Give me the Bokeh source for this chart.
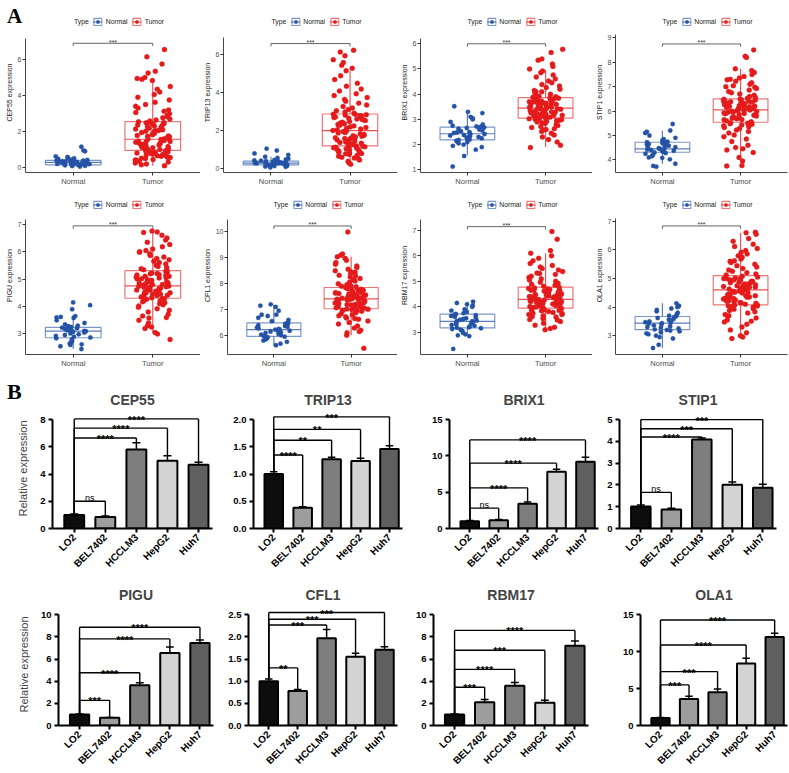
from bokeh.plotting import figure
from bokeh.models import Range1d, FixedTicker, Legend, LegendItem, ColumnDataSource, Div
from bokeh.transform import jitter
from bokeh.layouts import column, row
from bokeh.embed import file_html
from bokeh.resources import INLINE
from bokeh.core.properties import value
import math

# ---------------- DATA: panel A (expression, TCGA-like) ----------------
groups_a = ["Normal", "Tumor"]

normal_cep55 = [0.05,0.08,0.1,0.12,0.14,0.15,0.16,0.18,0.19,0.2,0.21,0.22,0.23,0.24,0.25,0.26,0.27,0.28,0.28,0.29,
                0.3,0.31,0.32,0.33,0.34,0.35,0.36,0.38,0.39,0.4,0.42,0.44,0.47,0.5,0.53,0.58,0.62,0.9,0.95,1.15]
tumor_cep55 = [0.1,0.15,0.2,0.25,0.3,0.35,0.4,0.42,0.45,0.5,0.52,0.55,0.6,0.62,0.65,0.68,0.7,0.72,0.75,0.78,0.8,0.84,0.87,0.9,0.93,
               0.96,1.0,1.02,1.05,1.08,1.1,1.13,1.16,1.2,1.22,1.25,1.28,1.3,1.33,1.36,1.4,1.43,1.46,1.5,1.53,1.56,1.58,1.6,1.63,1.66,
               1.7,1.74,1.78,1.82,1.86,1.9,1.94,1.98,2.02,2.06,2.1,2.14,2.18,2.22,2.26,2.3,2.33,2.36,2.39,2.42,2.45,2.48,2.5,2.52,2.54,
               2.58,2.64,2.7,2.76,2.82,2.9,2.98,3.05,3.12,3.2,3.3,3.4,3.5,3.62,3.75,3.9,4.05,4.2,4.35,4.5,4.83,4.95,5.25,5.75,6.55,
               5.35,6.15,4.9,5.0,1.15,1.45,1.75,2.05,0.55,0.85]
normal_trip13 = [0.06,0.09,0.11,0.13,0.15,0.17,0.18,0.19,0.2,0.21,0.22,0.23,0.24,0.25,0.26,0.27,0.28,0.28,0.29,0.3,
                 0.31,0.32,0.33,0.34,0.35,0.36,0.37,0.38,0.39,0.41,0.43,0.45,0.48,0.52,0.56,0.62,0.72,0.8,0.95,1.05]
tumor_trip13 = [0.22,0.3,0.38,0.45,0.5,0.55,0.6,0.65,0.7,0.74,0.78,0.82,0.86,0.9,0.93,0.96,0.99,1.02,1.05,1.08,1.1,1.13,1.15,1.17,1.19,
                1.22,1.26,1.3,1.34,1.38,1.42,1.46,1.5,1.54,1.58,1.62,1.66,1.7,1.73,1.76,1.8,1.84,1.88,1.92,1.96,1.99,2.01,2.05,2.09,2.13,
                2.17,2.21,2.25,2.29,2.33,2.37,2.41,2.45,2.49,2.53,2.57,2.61,2.65,2.69,2.72,2.75,2.78,2.8,2.82,2.84,2.86,2.87,1.6,1.9,2.3,
                2.92,2.98,3.05,3.12,3.2,3.28,3.36,3.45,3.55,3.65,3.75,3.85,3.95,4.1,4.2,4.35,4.5,4.7,4.9,5.17,5.45,5.6,5.75,5.95,6.25,
                6.15,5.3,1.4,2.6,0.8,1.1]
normal_brix1 = [1.13,1.55,1.8,1.9,1.95,2.0,2.05,2.1,2.12,2.15,2.18,2.2,2.22,2.25,2.28,2.3,2.33,2.36,2.38,2.4,2.42,
                2.44,2.46,2.48,2.5,2.53,2.56,2.6,2.63,2.66,2.68,2.7,2.72,2.75,2.8,2.9,3.0,3.05,3.1,3.25,3.3,3.52]
tumor_brix1 = [1.88,1.97,2.1,2.2,2.3,2.38,2.45,2.52,2.58,2.63,2.68,2.72,2.76,2.8,2.84,2.87,2.9,2.93,2.95,2.97,2.99,3.01,3.02,3.03,3.04,
               3.06,3.08,3.1,3.12,3.14,3.16,3.18,3.2,3.22,3.24,3.26,3.28,3.3,3.32,3.34,3.36,3.38,3.4,3.42,3.44,3.45,3.46,3.48,3.5,3.52,
               3.54,3.56,3.58,3.6,3.62,3.64,3.66,3.68,3.7,3.72,3.74,3.76,3.78,3.8,3.82,3.84,3.85,3.3,3.4,3.5,3.6,3.2,3.7,3.15,3.55,
               3.88,3.92,3.96,4.0,4.05,4.1,4.15,4.2,4.26,4.32,4.38,4.45,4.52,4.6,4.68,4.76,4.85,4.92,5.0,5.1,5.2,5.35,5.4,5.65,5.78,
               3.35,3.45,3.65,2.6,4.1,3.9]
normal_stip1 = [3.72,3.75,3.84,4.02,4.08,4.1,4.15,4.2,4.25,4.28,4.3,4.32,4.35,4.37,4.4,4.42,4.44,4.45,4.46,4.48,
                4.5,4.52,4.55,4.58,4.6,4.62,4.65,4.68,4.7,4.72,4.74,4.76,4.8,4.85,4.9,5.0,5.1,5.15,5.2,5.47]
tumor_stip1 = [3.75,3.77,3.95,4.1,4.3,4.45,4.6,4.75,4.85,4.95,5.02,5.1,5.16,5.22,5.28,5.32,5.36,5.4,5.43,5.46,5.48,5.5,5.52,5.53,4.5,
               5.56,5.6,5.64,5.68,5.72,5.76,5.8,5.83,5.86,5.89,5.92,5.95,5.98,6.0,6.02,6.04,6.05,6.06,6.08,6.1,6.12,6.14,6.16,6.18,6.2,
               6.22,6.24,6.26,6.28,6.3,6.32,6.34,6.36,6.38,6.4,6.42,6.44,6.46,6.48,6.49,5.7,5.9,6.1,6.3,5.65,6.15,6.35,5.85,6.25,6.45,
               6.52,6.56,6.6,6.65,6.7,6.75,6.8,6.86,6.92,6.98,7.04,7.1,7.16,7.22,7.28,7.35,7.42,7.5,7.58,7.66,7.73,8.2,8.25,8.5,7.0,
               6.0,5.95,6.2,5.75,4.4,7.3]
normal_pigu = [2.45,2.55,2.6,2.62,2.65,2.7,2.75,2.8,2.84,2.87,2.9,2.93,2.96,2.99,3.02,3.05,3.08,3.1,3.11,3.13,
               3.15,3.17,3.19,3.21,3.23,3.25,3.28,3.3,3.35,3.4,3.5,3.58,3.6,3.62,3.65,3.9,4.05,4.15]
tumor_pigu = [2.8,3.05,3.2,3.3,3.4,3.5,3.58,3.65,3.72,3.8,3.86,3.92,3.97,4.02,4.06,4.1,4.14,4.17,4.2,4.22,4.24,4.26,4.28,4.29,3.0,
              4.32,4.35,4.38,4.41,4.44,4.47,4.5,4.53,4.56,4.59,4.62,4.65,4.68,4.7,4.72,4.74,4.75,4.76,4.78,4.8,4.83,4.86,4.89,4.92,4.95,
              4.98,5.01,5.04,5.07,5.1,5.13,5.16,5.19,5.22,5.25,5.28,5.3,4.4,4.6,4.8,5.0,5.2,4.5,4.7,4.9,5.1,4.45,4.85,5.05,4.65,
              5.34,5.38,5.42,5.46,5.5,5.55,5.6,5.65,5.7,5.75,5.8,5.86,5.92,5.98,6.04,6.1,6.18,6.26,6.34,6.42,6.5,6.6,6.7,6.72,6.75,
              4.55,4.95,5.15,3.6,6.0,3.25]
normal_cfl1 = [5.62,5.68,5.75,5.8,5.85,5.9,5.93,5.95,5.97,6.0,6.03,6.06,6.09,6.12,6.15,6.18,6.2,6.22,6.23,6.25,
               6.27,6.3,6.33,6.36,6.39,6.42,6.45,6.47,6.5,6.55,6.6,6.68,6.75,6.8,6.8,6.95,7.1,7.15,7.2]
tumor_cfl1 = [5.5,6.0,6.1,6.2,6.28,6.36,6.44,6.5,6.56,6.62,6.67,6.72,6.76,6.8,6.84,6.87,6.9,6.93,6.95,6.97,6.99,7.0,7.01,7.02,6.15,
              7.05,7.07,7.09,7.11,7.13,7.15,7.17,7.19,7.21,7.23,7.25,7.27,7.29,7.31,7.33,7.35,7.37,7.39,7.4,7.41,7.42,7.44,7.46,7.48,7.5,
              7.52,7.54,7.56,7.58,7.6,7.62,7.64,7.66,7.68,7.7,7.72,7.74,7.76,7.78,7.8,7.82,7.84,7.2,7.3,7.45,7.55,7.65,7.35,7.25,7.5,
              7.88,7.92,7.96,8.0,8.05,8.1,8.15,8.2,8.26,8.32,8.38,8.44,8.5,8.56,8.62,8.68,8.75,8.82,8.9,8.98,9.04,9.1,9.15,10.0,8.45,
              7.1,7.6,7.9,6.65,8.3,7.38]
normal_rbm17 = [2.35,2.85,2.88,2.92,2.98,3.05,3.1,3.13,3.16,3.18,3.2,3.23,3.26,3.29,3.32,3.35,3.38,3.41,3.43,3.44,
                3.46,3.49,3.52,3.55,3.58,3.61,3.64,3.67,3.7,3.72,3.75,3.8,3.85,3.9,4.0,4.05,4.1,4.15,4.2]
tumor_rbm17 = [3.1,3.15,3.2,3.28,3.35,3.42,3.48,3.54,3.6,3.65,3.7,3.74,3.78,3.81,3.84,3.86,3.88,3.9,3.92,3.93,3.94,3.5,3.62,3.75,3.85,
               3.97,3.99,4.01,4.03,4.05,4.07,4.09,4.11,4.13,4.15,4.17,4.19,4.21,4.23,4.25,4.27,4.29,4.3,4.32,4.34,4.36,4.38,4.4,4.42,4.44,
               4.46,4.48,4.5,4.52,4.54,4.56,4.58,4.6,4.62,4.64,4.66,4.68,4.7,4.72,4.74,4.76,4.1,4.2,4.3,4.4,4.5,4.6,4.15,4.25,4.35,
               4.8,4.84,4.88,4.92,4.96,5.0,5.05,5.1,5.15,5.2,5.26,5.32,5.38,5.44,5.5,5.56,5.62,5.7,5.8,5.9,6.0,6.1,6.2,6.65,6.95,
               4.05,4.45,4.65,3.7,5.3,4.28]
normal_ola1 = [2.57,2.68,2.9,2.95,3.0,3.05,3.08,3.12,3.15,3.18,3.2,3.22,3.25,3.28,3.3,3.33,3.36,3.39,3.42,3.44,
               3.45,3.47,3.5,3.53,3.56,3.59,3.62,3.65,3.68,3.7,3.75,3.8,3.85,3.9,3.95,4.0,4.02,4.05,4.13]
tumor_ola1 = [2.9,2.95,3.0,3.1,3.2,3.3,3.4,3.48,3.55,3.62,3.68,3.74,3.79,3.84,3.88,3.92,3.95,3.98,4.0,4.02,4.04,4.05,4.06,4.07,3.5,
              4.1,4.13,4.16,4.19,4.22,4.25,4.28,4.31,4.34,4.37,4.4,4.43,4.46,4.49,4.52,4.55,4.58,4.6,4.61,4.63,4.66,4.69,4.72,4.75,4.78,
              4.81,4.84,4.87,4.9,4.93,4.96,4.99,5.02,5.05,5.08,4.2,4.3,4.4,4.5,4.6,4.7,4.8,4.9,5.0,4.15,4.35,4.55,4.75,4.95,4.45,
              5.12,5.16,5.2,5.25,5.3,5.35,5.4,5.45,5.5,5.56,5.62,5.68,5.74,5.8,5.86,5.92,5.98,6.05,6.12,6.2,6.3,6.4,6.55,6.6,6.62,
              4.65,4.25,5.0,3.7,5.6,4.85]

# box statistics: (lower whisker, Q1, median, Q3, upper whisker)
box_normal = {
    "CEP55": (0.03, 0.15, 0.28, 0.39, 0.62), "TRIP13": (0.05, 0.19, 0.28, 0.39, 0.62),
    "BRIX1": (1.57, 2.19, 2.43, 2.69, 3.35), "STIP1": (3.84, 4.31, 4.45, 4.72, 5.2),
    "PIGU": (2.45, 2.86, 3.1, 3.24, 3.7), "CFL1": (5.6, 5.96, 6.22, 6.48, 7.18),
    "RBM17": (2.85, 3.17, 3.43, 3.71, 4.15), "OLA1": (2.57, 3.21, 3.44, 3.67, 4.13)}
box_tumor = {
    "CEP55": (0.1, 0.95, 1.57, 2.55, 4.83), "TRIP13": (0.2, 1.2, 2.0, 2.88, 5.17),
    "BRIX1": (1.9, 3.05, 3.45, 3.86, 4.95), "STIP1": (4.1, 5.54, 6.05, 6.5, 7.73),
    "PIGU": (3.05, 4.3, 4.75, 5.31, 6.7), "CFL1": (6.0, 7.03, 7.41, 7.85, 9.04),
    "RBM17": (3.1, 3.95, 4.29, 4.77, 6.1), "OLA1": (2.98, 4.08, 4.6, 5.1, 6.6)}
sig_a = "***"
legend_title_a = "Type"

# ---------------- DATA: panel B (qPCR relative expression) ----------------
cell_lines = ["LO2", "BEL7402", "HCCLM3", "HepG2", "Huh7"]
cep55_mean = [1.0, 0.84, 5.8, 4.97, 4.68];  cep55_err = [0.06, 0.07, 0.5, 0.38, 0.18]
trip13_mean = [1.0, 0.38, 1.27, 1.24, 1.46]; trip13_err = [0.04, 0.02, 0.04, 0.05, 0.06]
brix1_mean = [1.0, 1.15, 3.4, 7.8, 9.2];     brix1_err = [0.1, 0.1, 0.25, 0.35, 0.6]
stip1_mean = [1.01, 0.87, 4.08, 2.01, 1.87]; stip1_err = [0.07, 0.06, 0.07, 0.12, 0.16]
pigu_mean = [1.0, 0.7, 3.63, 6.54, 7.45];    pigu_err = [0.03, 0.03, 0.22, 0.54, 0.28]
cfl1_mean = [1.0, 0.78, 1.97, 1.55, 1.71];   cfl1_err = [0.05, 0.03, 0.2, 0.08, 0.07]
rbm17_mean = [1.0, 2.11, 3.6, 2.06, 7.21];   rbm17_err = [0.04, 0.23, 0.29, 0.22, 0.42]
ola1_mean = [1.0, 3.6, 4.5, 8.4, 12.0];      ola1_err = [0.1, 0.35, 0.45, 0.7, 0.5]

cep55_sig = ["ns", "****", "****", "****"]
trip13_sig = ["****", "**", "**", "***"]
brix1_sig = ["ns", "****", "****", "****"]
stip1_sig = ["ns", "****", "***", "***"]
pigu_sig = ["***", "****", "****", "****"]
cfl1_sig = ["**", "***", "***", "***"]
rbm17_sig = ["***", "****", "***", "****"]
ola1_sig = ["***", "***", "****", "****"]

FONT = "Liberation Sans"
SERIF = "Liberation Serif"
BLUE = "#2453a6"
RED = "#e41a1c"
BAR_FILL = ["#0d0d0d", "#9d9d9d", "#7e7e7e", "#d3d3d3", "#5f5f5f"]


def box_panel(gene, normal, tumor, yr, ticks, ytop, ybr, w, bl, br, h, btop, bbot, lmargin):
    p = figure(width=w, height=h, x_range=Range1d(0.4, 2.6), y_range=Range1d(*yr),
               output_backend="svg", toolbar_location=None, tools="",
               min_border_left=bl, min_border_right=br, min_border_top=btop, min_border_bottom=bbot,
               outline_line_color=None, background_fill_color="white", border_fill_color="white")
    p.grid.visible = False
    dummy = p.scatter(x=[], y=[], size=0, fill_alpha=0, line_alpha=0)
    items = [LegendItem(label=legend_title_a, renderers=[dummy])]
    for xc, vals, st, col, name, sz in [(1, normal, box_normal[gene], BLUE, groups_a[0], 4.4),
                                        (2, tumor, box_tumor[gene], RED, groups_a[1], 5.0)]:
        lo, q1, med, q3, hi = st
        q = p.quad(left=[xc - 0.35], right=[xc + 0.35], bottom=[q1], top=[q3],
                   fill_color="white", fill_alpha=0.0, line_color=col, line_alpha=0.6, line_width=1.2)
        s = p.segment(x0=[xc - 0.35, xc, xc], y0=[med, lo, q3], x1=[xc + 0.35, xc, xc], y1=[med, q1, hi],
                      line_color=col, line_alpha=0.75, line_width=1.2)
        src = ColumnDataSource(dict(x=[xc] * len(vals), y=vals))
        c = p.scatter(x=jitter("x", width=0.44, distribution="uniform"), y="y", source=src,
                      size=sz, fill_color=col, line_color=col, line_width=0.3)
        items.append(LegendItem(label=name, renderers=[q, s, c]))
    d = (yr[1] - yr[0]) * 0.018
    p.segment(x0=[1, 1, 2], y0=[ybr, ybr, ybr], x1=[2, 1, 2], y1=[ybr, ybr - d, ybr - d],
              line_color="#555555", line_width=0.9)
    p.text(x=[1.5], y=[ybr], text=[sig_a], text_font=value(FONT), text_font_size="7px",
           text_align="center", text_baseline="alphabetic", text_color="#333333", y_offset=-1)
    p.xaxis.ticker = FixedTicker(ticks=[1, 2])
    p.xaxis.major_label_overrides = {1: groups_a[0], 2: groups_a[1]}
    p.yaxis.ticker = FixedTicker(ticks=ticks)
    p.yaxis.bounds = (yr[0], ytop)
    p.yaxis.axis_label = gene + " expression"
    for ax in p.axis:
        ax.axis_line_color = "#333333"
        ax.axis_line_width = 0.9
        ax.major_tick_line_color = "#333333"
        ax.major_tick_out = 3
        ax.major_tick_in = 0
        ax.minor_tick_line_color = None
        ax.major_label_text_font = FONT
        ax.major_label_text_font_size = "7px"
        ax.major_label_text_color = "#4d4d4d"
        ax.major_label_standoff = 1
    p.xaxis.major_label_text_font_size = "7.5px"
    p.yaxis.axis_label_text_font = FONT
    p.yaxis.axis_label_text_font_size = "7px"
    p.yaxis.axis_label_text_font_style = "normal"
    p.yaxis.axis_label_text_color = "#1a1a1a"
    p.yaxis.axis_label_standoff = 2
    leg = Legend(items=items, orientation="horizontal",
                 location="top_center", label_text_font=FONT, label_text_font_size="6.8px",
                 label_text_color="#222222", glyph_width=10, glyph_height=9, label_height=9,
                 label_width=10, label_standoff=3, spacing=4, padding=0, margin=lmargin,
                 border_line_color=None, background_fill_alpha=0)
    p.add_layout(leg)
    return p


def bar_panel(gene, means, errs, sigs, sig_y, ticks, tick_labels, tmax, w, bl, br, h, btop, bbot, ylabel):
    p = figure(width=w, height=h, x_range=Range1d(-0.7, 4.45), y_range=Range1d(0, tmax * 130.0 / 118.0),
               output_backend="svg", toolbar_location=None, tools="",
               min_border_left=bl, min_border_right=br, min_border_top=btop, min_border_bottom=bbot,
               outline_line_color=None, background_fill_color="white", border_fill_color="white")
    p.grid.visible = False
    xs = list(range(len(cell_lines)))
    tops = [m + e for m, e in zip(means, errs)]
    p.segment(x0=xs, y0=means, x1=xs, y1=tops, line_color="black", line_width=1.5)
    p.segment(x0=[x - 0.13 for x in xs], y0=tops, x1=[x + 0.13 for x in xs], y1=tops,
              line_color="black", line_width=1.5)
    p.vbar(x=xs, top=means, width=0.64, fill_color=BAR_FILL, line_color="black", line_width=2)
    bx0, by0, bx1, by1 = [], [], [], []
    for i, yb in enumerate(sig_y, start=1):
        bx0 += [0, 0, i]; by0 += [yb, tops[0], yb]
        bx1 += [i, 0, i]; by1 += [yb, yb, tops[i]]
    p.segment(x0=bx0, y0=by0, x1=bx1, y1=by1, line_color="black", line_width=1.4)
    stars = [(i / 2.0, yb, s) for i, (s, yb) in enumerate(zip(sigs, sig_y), start=1) if s != "ns"]
    nss = [(i / 2.0, yb, s) for i, (s, yb) in enumerate(zip(sigs, sig_y), start=1) if s == "ns"]
    if stars:
        p.text(x=[a[0] for a in stars], y=[a[1] for a in stars], text=[a[2] for a in stars],
               text_font=value(FONT), text_font_size="11px", text_font_style="bold", text_align="center",
               text_baseline="alphabetic", text_color="black", y_offset=1)
    if nss:
        p.text(x=[a[0] for a in nss], y=[a[1] for a in nss], text=[a[2] for a in nss],
               text_font=value(FONT), text_font_size="9px", text_align="center",
               text_baseline="alphabetic", text_color="black", y_offset=-3)
    p.title.text = gene
    p.title.text_font = FONT
    p.title.text_font_size = "14px"
    p.title.text_font_style = "bold"
    p.title.align = "center"
    p.title.standoff = 2
    p.xaxis.ticker = FixedTicker(ticks=xs)
    p.xaxis.major_label_overrides = {i: c for i, c in zip(xs, cell_lines)}
    p.xaxis.major_label_orientation = math.pi / 4
    p.yaxis.ticker = FixedTicker(ticks=ticks)
    p.yaxis.major_label_overrides = {t: l for t, l in zip(ticks, tick_labels)}
    p.yaxis.bounds = (0, tmax)
    for ax in p.axis:
        ax.axis_line_color = "black"
        ax.axis_line_width = 2
        ax.major_tick_line_color = "black"
        ax.major_tick_line_width = 2
        ax.major_tick_out = 4
        ax.major_tick_in = 0
        ax.minor_tick_line_color = None
        ax.major_label_text_font = FONT
        ax.major_label_text_font_style = "bold"
        ax.major_label_text_color = "black"
        ax.major_label_standoff = 3
    p.xaxis.major_label_text_font_size = "10px"
    p.yaxis.major_label_text_font_size = "9.5px"
    if ylabel:
        p.yaxis.axis_label = "Relative expression"
        p.yaxis.axis_label_text_font = FONT
        p.yaxis.axis_label_text_font_size = "11px"
        p.yaxis.axis_label_text_font_style = "normal"
        p.yaxis.axis_label_standoff = 8
    return p


# ---------- panel A ----------
colsA = [(200, 25, 0), (197, 19, 0), (195, 17, 0), (197, 15, 2)]
r1 = (190, 12, 18, 5)
r2 = (180, 6, 15, 4)
a1 = box_panel("CEP55", normal_cep55, tumor_cep55, (-0.278, 8.61), [0, 2, 4, 6], 7.17, 6.9, *colsA[0], *r1)
a2 = box_panel("TRIP13", normal_trip13, tumor_trip13, (-0.21, 8.24), [0, 2, 4, 6], 6.9, 6.6, *colsA[1], *r1)
a3 = box_panel("BRIX1", normal_brix1, tumor_brix1, (0.893, 7.24), [1, 2, 3, 4, 5, 6], 6.2, 6.0, *colsA[2], *r1)
a4 = box_panel("STIP1", normal_stip1, tumor_stip1, (3.48, 10.04), [4, 5, 6, 7, 8, 9], 9.15, 8.75, *colsA[3], *r1)
a5 = box_panel("PIGU", normal_pigu, tumor_pigu, (2.25, 8.01), [3, 4, 5, 6, 7], 7.17, 6.94, *colsA[0], *r2)
a6 = box_panel("CFL1", normal_cfl1, tumor_cfl1, (5.26, 11.37), [6, 7, 8, 9, 10], 10.48, 10.23, *colsA[1], *r2)
a7 = box_panel("RBM17", normal_rbm17, tumor_rbm17, (2.13, 8.32), [3, 4, 5, 6, 7], 7.42, 7.14, *colsA[2], *r2)
a8 = box_panel("OLA1", normal_ola1, tumor_ola1, (2.34, 7.87), [3, 4, 5, 6, 7], 7.1, 6.84, *colsA[3], *r2)

# ---------- panel B ----------
r3 = (206, 38, 38)
r4 = (197, 27, 40)
colsB3 = [(225, 52, 13), (185, 28, 8), (190, 39, 2), (189, 19, 13)]
colsB4 = [(225, 58, 12), (180, 23, 8), (190, 28, 7), (194, 45, 2)]
b1 = bar_panel("CEP55", cep55_mean, cep55_err, cep55_sig, [2.0, 6.65, 7.37, 8.05],
               [0, 2, 4, 6, 8], ["0", "2", "4", "6", "8"], 8, *colsB3[0], *r3, True)
b2 = bar_panel("TRIP13", trip13_mean, trip13_err, trip13_sig, [1.35, 1.62, 1.82, 2.05],
               [0, 0.5, 1.0, 1.5, 2.0], ["0.0", "0.5", "1.0", "1.5", "2.0"], 2.0, *colsB3[1], *r3, False)
b3 = bar_panel("BRIX1", brix1_mean, brix1_err, brix1_sig, [2.8, 5.6, 9.0, 12.2],
               [0, 5, 10, 15], ["0", "5", "10", "15"], 15, *colsB3[2], *r3, False)
b4 = bar_panel("STIP1", stip1_mean, stip1_err, stip1_sig, [1.66, 4.2, 4.58, 5.0],
               [0, 1, 2, 3, 4, 5], ["0", "1", "2", "3", "4", "5"], 5, *colsB3[3], *r3, False)
b5 = bar_panel("PIGU", pigu_mean, pigu_err, pigu_sig, [2.27, 4.76, 7.82, 8.87],
               [0, 2, 4, 6, 8, 10], ["0", "2", "4", "6", "8", "10"], 10, *colsB4[0], *r4, True)
b6 = bar_panel("CFL1", cfl1_mean, cfl1_err, cfl1_sig, [1.3, 2.27, 2.4, 2.55],
               [0, 0.5, 1.0, 1.5, 2.0, 2.5], ["0.0", "0.5", "1.0", "1.5", "2.0", "2.5"], 2.5, *colsB4[1], *r4, False)
b7 = bar_panel("RBM17", rbm17_mean, rbm17_err, rbm17_sig, [3.46, 5.07, 6.79, 8.59],
               [0, 2, 4, 6, 8, 10], ["0", "2", "4", "6", "8", "10"], 10, *colsB4[2], *r4, False)
b8 = bar_panel("OLA1", ola1_mean, ola1_err, ola1_sig, [5.5, 7.3, 10.9, 14.3],
               [0, 5, 10, 15], ["0", "5", "10", "15"], 15, *colsB4[3], *r4, False)


def panel_letter(txt, top, size):
    return Div(text=txt, width=24, height=26,
               styles={"position": "absolute", "left": "2px", "top": "%dpx" % top, "z-index": "10",
                       "font-family": SERIF, "font-weight": "bold", "font-size": "%dpx" % size,
                       "line-height": "1", "color": "black", "pointer-events": "none"})


letter_a = panel_letter("A", 1, 21)
letter_b = panel_letter("B", 376, 22)

layout = column(row(a1, a2, a3, a4), row(a5, a6, a7, a8), row(b1, b2, b3, b4), row(b5, b6, b7, b8),
                letter_a, letter_b)
open("out.html", "w").write(file_html(layout, INLINE))
